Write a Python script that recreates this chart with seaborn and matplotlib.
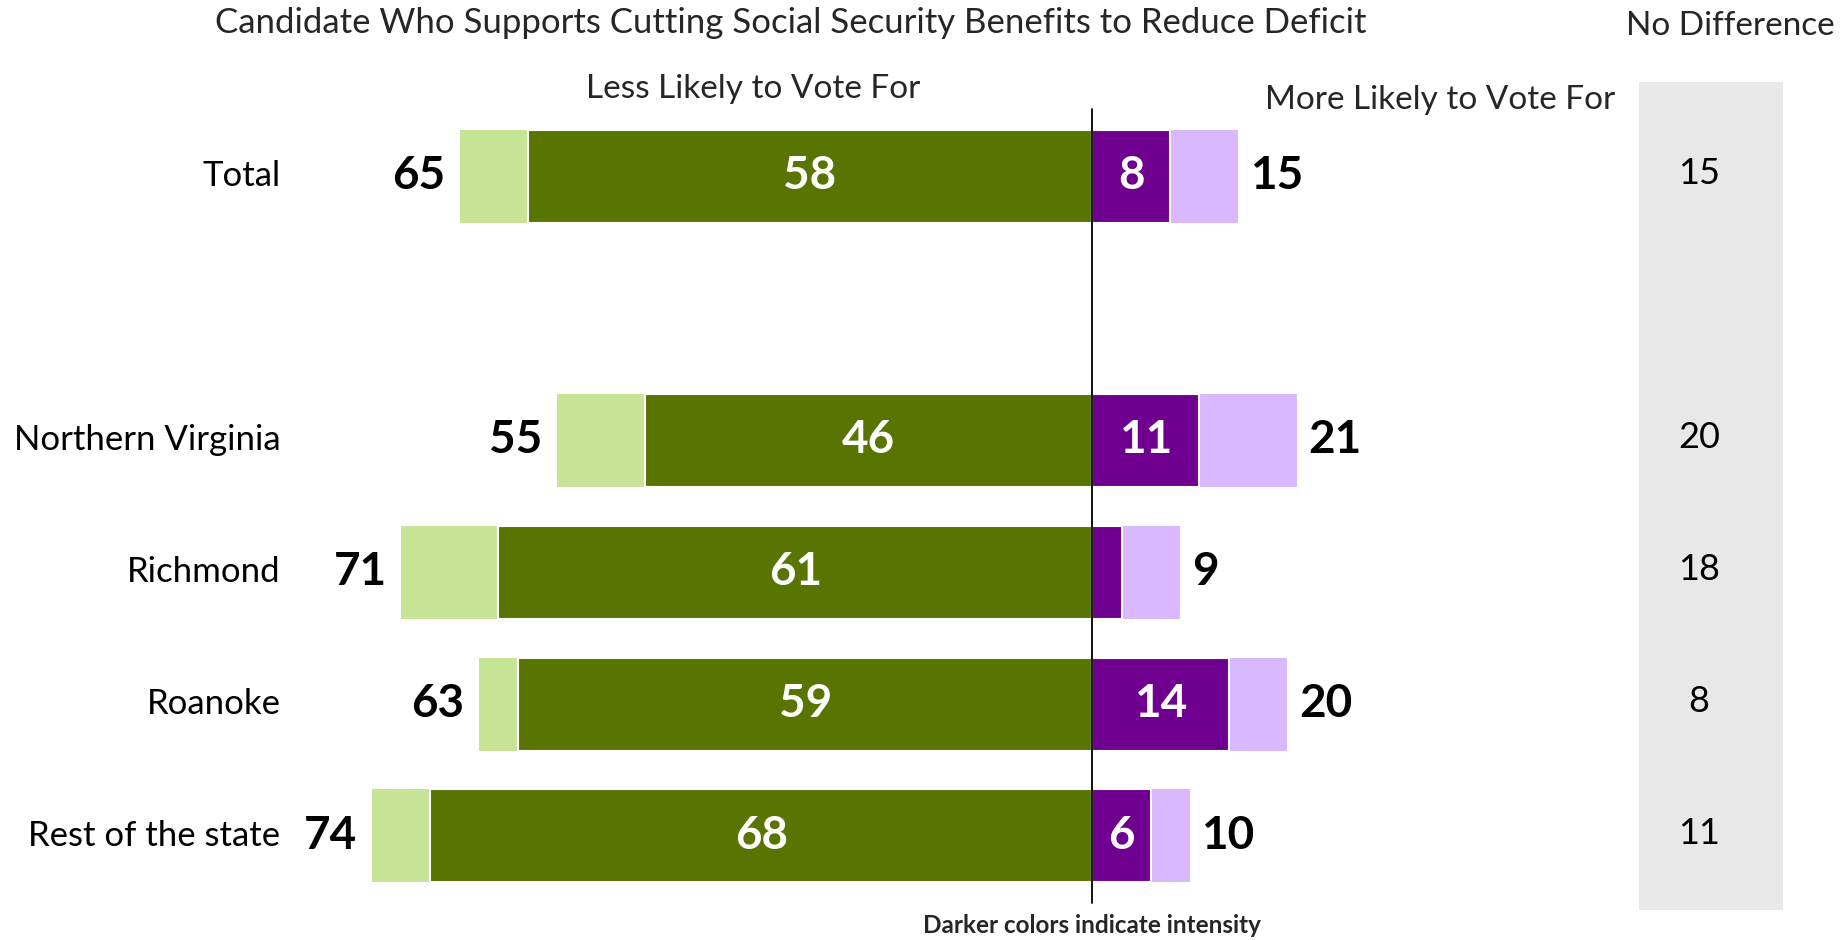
import matplotlib
matplotlib.use("Agg")
import matplotlib.pyplot as plt
import matplotlib.patches as mpatches
import seaborn as sns
import pandas as pd

# ---- data ----
regions = ["Total", "Northern Virginia", "Richmond", "Roanoke", "Rest of the state"]
less_total = [65, 55, 71, 63, 74]
less_strong = [58, 46, 61, 59, 68]
more_total = [15, 21, 9, 20, 10]
more_strong = [8, 11, 3, 14, 6]
no_difference = [15, 20, 18, 8, 11]

title = "Candidate Who Supports Cutting Social Security Benefits to Reduce Deficit"
less_label = "Less Likely to Vote For"
more_label = "More Likely to Vote For"
nodiff_label = "No Difference"
footnote = "Darker colors indicate intensity"

# ---- styling ----
sns.set_theme(style="white")
plt.rcParams["font.family"] = ["Lato", "DejaVu Sans"]

DARK_GREEN = "#587500"
LIGHT_GREEN = "#C8E497"
DARK_PURPLE = "#6F008F"
LIGHT_PURPLE = "#DAB8FF"
BOX_GRAY = "#E8E8E8"

GAP = " "
order = [regions[0], GAP] + regions[1:]
df = pd.DataFrame({
    "region": regions,
    "less_total": [-v for v in less_total],
    "less_strong": [-v for v in less_strong],
    "more_total": more_total,
    "more_strong": more_strong,
})

fig = plt.figure(figsize=(18.44, 9.40), dpi=100)
ax = fig.add_axes([0, 0, 1, 1])

bw = 0.705
sns.barplot(data=df, x="less_total", y="region", order=order, orient="h",
            color=LIGHT_GREEN, width=bw, errorbar=None, ax=ax, saturation=1,
            linewidth=0)
sns.barplot(data=df, x="less_strong", y="region", order=order, orient="h",
            color=DARK_GREEN, width=bw, errorbar=None, ax=ax, saturation=1,
            edgecolor="white", linewidth=1.5)
sns.barplot(data=df, x="more_total", y="region", order=order, orient="h",
            color=LIGHT_PURPLE, width=bw, errorbar=None, ax=ax, saturation=1,
            linewidth=0)
sns.barplot(data=df, x="more_strong", y="region", order=order, orient="h",
            color=DARK_PURPLE, width=bw, errorbar=None, ax=ax, saturation=1,
            edgecolor="white", linewidth=1.5)

ax.set_xlim(-112.2, 77.2)
ax.set_ylim(5.789, -1.337)
ax.set_axis_off()

pos = {r: order.index(r) for r in regions}

# "No Difference" panel
ax.add_patch(mpatches.Rectangle((56.1, -0.716), 70.9 - 56.1, 5.562 + 0.716,
                                facecolor=BOX_GRAY, edgecolor="none", zorder=0))

# zero line
ax.plot([0, 0], [-0.511, 5.509], color="black", linewidth=1.3, zorder=5)

num_fs = 33
lab_fs = 25
for r, lt, ls, mt, ms, nd in zip(regions, less_total, less_strong,
                                  more_total, more_strong, no_difference):
    y = pos[r]
    ax.text(-lt - 1.5, y, str(lt), ha="right", va="center", fontsize=num_fs,
            fontweight="bold", color="black")
    ax.text(-ls / 2, y, str(ls), ha="center", va="center", fontsize=num_fs,
            fontweight="bold", color="white", zorder=6)
    if ms >= 5:
        ax.text(ms / 2, y, str(ms), ha="center", va="center", fontsize=num_fs,
                fontweight="bold", color="white", zorder=6)
    ax.text(mt + 1.2, y, str(mt), ha="left", va="center", fontsize=num_fs,
            fontweight="bold", color="black")
    ax.text(-83.4, y, r, ha="right", va="center", fontsize=lab_fs, color="black")
    ax.text(62.3, y - 0.02, str(nd), ha="center", va="center", fontsize=26,
            color="black")

ax.text(-30.95, -1.159, title, ha="center", va="center", fontsize=25)
ax.text(65.5, -1.141, nodiff_label, ha="center", va="center", fontsize=24)
ax.text(-34.8, -0.66, less_label, ha="center", va="center", fontsize=24)
ax.text(35.7, -0.579, more_label, ha="center", va="center", fontsize=24)
ax.text(0, 5.68, footnote, ha="center", va="center", fontsize=17.5,
        fontweight="bold")

fig.savefig("out.png", dpi=100, facecolor="white")
